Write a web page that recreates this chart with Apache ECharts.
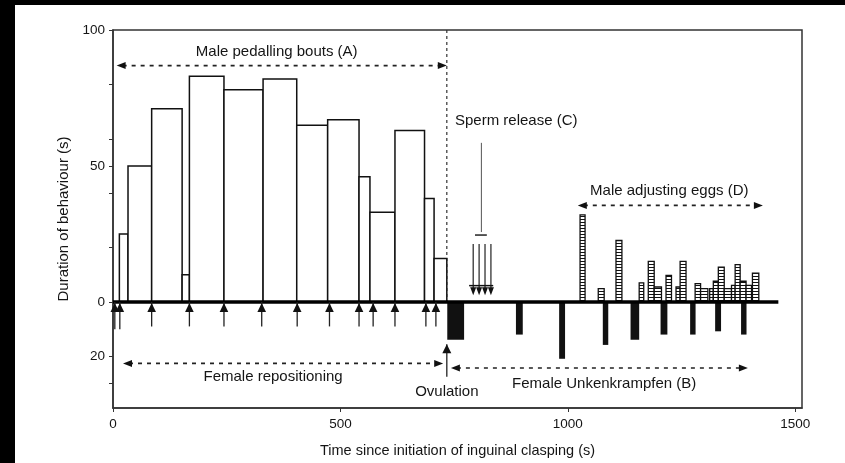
<!DOCTYPE html>
<html><head><meta charset="utf-8">
<script src="https://cdn.jsdelivr.net/npm/echarts@6/dist/echarts.min.js"></script>
<style>html,body{margin:0;padding:0;background:#fff}#c{width:845px;height:463px}</style>
</head><body><div id="c"></div>
<script>
// Male pedalling bouts (A): start, end (s), duration (s)
const boutStart    = [14, 33, 85, 152, 168, 244, 330, 404, 472, 541, 565, 620, 685, 706];
const boutEnd      = [33, 85, 152, 168, 244, 330, 404, 472, 541, 565, 620, 685, 706, 734];
const boutDuration = [25, 50, 71, 10, 83, 78, 82, 65, 67, 46, 33, 63, 38, 16];

// Female repositioning events (arrows below baseline)
const reposTime   = [4, 15, 85, 168, 244, 327, 405, 476, 541, 572, 620, 688, 710];
const reposLength = [-10, -10, -9, -9, -9, -9, -9, -9, -9, -9, -9, -9, -9];

// Female Unkenkrampfen (B): start, end, duration (plotted downward)
const unkStart    = [735, 886, 981, 1077, 1138, 1204, 1269, 1324, 1381];
const unkEnd      = [772, 901, 994, 1089, 1157, 1219, 1281, 1337, 1393];
const unkDuration = [13.9, 12, 20.9, 15.8, 13.9, 12, 12, 10.8, 12];

// Male adjusting eggs (D): start, end, duration
const eggStart    = [1027, 1067, 1106, 1157, 1177, 1190, 1216, 1238, 1247, 1280, 1292, 1312, 1320, 1331, 1344, 1360, 1368, 1379, 1392, 1406];
const eggEnd      = [1038, 1080, 1119, 1167, 1190, 1206, 1228, 1247, 1260, 1292, 1308, 1320, 1331, 1344, 1360, 1368, 1379, 1392, 1404, 1420];
const eggDuration = [32, 4.9, 22.6, 7, 14.9, 5.5, 9.8, 5.5, 14.9, 6.7, 4.9, 4.9, 7.6, 12.8, 4.9, 6.1, 13.7, 7.6, 6.1, 10.6];

// Sperm release (C)
const spermTime = [792, 805, 818, 831];
const spermTop  = [21.3, 21.3, 21.3, 21.3];

// Event markers
const ovulationTime = 734;
const baselineEnd = 1463;

// Axis ticks
const xTicks = [0, 500, 1000, 1500];
const yLabels = [100, 50, 0, -20];
const yTicks = [100, 80, 60, 50, 40, 20, 0, -20, -30];

// Annotation ranges: [from, to, level]
const rangeArrows = [
  [8, 734, 86.9],      // Male pedalling bouts (A)
  [22, 726, -22.6],    // Female repositioning
  [743, 1396, -24.3],  // Female Unkenkrampfen (B)
  [1022, 1429, 35.5]   // Male adjusting eggs (D)
];
const annotations = [
  ['Male pedalling bouts (A)', 360, 92.1, 'center'],
  ['Sperm release (C)', 752, 66.5, 'left'],
  ['Male adjusting eggs (D)', 1049, 40.9, 'left'],
  ['Female repositioning', 352, -27.7, 'center'],
  ['Ovulation', 734, -33.2, 'center'],
  ['Female Unkenkrampfen (B)', 1080, -30.1, 'center']
];

const FONT = '"Liberation Sans", Arial, Helvetica, sans-serif';
const INK = '#151515';

// ladder pattern for egg bars
const pc = document.createElement('canvas');
pc.width = 4; pc.height = 3;
const pctx = pc.getContext('2d');
pctx.fillStyle = '#fff'; pctx.fillRect(0,0,4,3);
pctx.fillStyle = '#111'; pctx.fillRect(0,0,4,1);
const eggPattern = {image: pc, repeat: 'repeat'};

function tri(x, y, dir, len, half) {
  if (dir === 'up') return [[x, y], [x - half, y + len], [x + half, y + len]];
  if (dir === 'down') return [[x, y], [x - half, y - len], [x + half, y - len]];
  if (dir === 'left') return [[x, y], [x + len, y - half], [x + len, y + half]];
  return [[x, y], [x - len, y - half], [x - len, y + half]];
}

const chart = echarts.init(document.getElementById('c'), null, {renderer: 'canvas'});

const option = {
  animation: false,
  backgroundColor: '#fff',
  graphic: [
    {type: 'rect', left: 0, top: 0, z: 100, shape: {width: 845, height: 5}, style: {fill: '#000'}},
    {type: 'rect', left: 0, top: 0, z: 100, shape: {width: 15, height: 463}, style: {fill: '#000'}}
  ],
  grid: {left: 113, right: 43, top: 30, bottom: 52, show: true, borderColor: '#333', borderWidth: 1.5, backgroundColor: 'transparent'},
  xAxis: {
    type: 'value', min: 0, max: 1515,
    name: 'Time since initiation of inguinal clasping (s)',
    nameLocation: 'middle', nameGap: 35,
    nameTextStyle: {fontFamily: FONT, fontSize: 14.5, color: INK},
    axisLine: {show: true, onZero: false, lineStyle: {color: '#333', width: 1.5}},
    axisTick: {show: true, length: 4, customValues: xTicks, lineStyle: {color: '#333'}},
    axisLabel: {customValues: xTicks, margin: 9, fontFamily: FONT, fontSize: 13.5, color: INK,
      formatter: v => String(v)},
    splitLine: {show: false}
  },
  yAxis: {
    type: 'value', min: -39, max: 100,
    name: 'Duration of behaviour (s)',
    nameLocation: 'middle', nameGap: 39,
    nameTextStyle: {fontFamily: FONT, fontSize: 15, color: INK},
    axisLine: {show: true, onZero: false, lineStyle: {color: '#333', width: 1.5}},
    axisTick: {show: true, length: 4, customValues: yTicks, lineStyle: {color: '#333'}},
    axisLabel: {customValues: yLabels, margin: 8, fontFamily: FONT, fontSize: 13.5, color: INK,
      formatter: v => String(Math.abs(v))},
    splitLine: {show: false}
  },
  series: [
    {
      type: 'custom', silent: true, z: 1,
      data: [[ovulationTime, 100, 0]],
      renderItem(p, api) {
        const a = api.coord([api.value(0), api.value(1)]);
        const b = api.coord([api.value(0), api.value(2)]);
        return {type: 'line', shape: {x1: a[0], y1: a[1], x2: b[0], y2: b[1]},
          style: {stroke: '#333', lineWidth: 1.2, lineDash: [3, 3]}};
      }
    },
    {
      type: 'custom', silent: true, z: 2,
      data: boutStart.map((s, i) => [s, boutEnd[i], boutDuration[i]]),
      renderItem(p, api) {
        const a = api.coord([api.value(0), api.value(2)]);
        const b = api.coord([api.value(1), 0]);
        return {type: 'rect', shape: {x: a[0], y: a[1], width: b[0] - a[0], height: b[1] - a[1]},
          style: {fill: '#fff', stroke: '#111', lineWidth: 1.5}};
      }
    },
    {
      type: 'custom', silent: true, z: 2,
      data: eggStart.map((s, i) => [s, eggEnd[i], eggDuration[i]]),
      renderItem(p, api) {
        const a = api.coord([api.value(0), api.value(2)]);
        const b = api.coord([api.value(1), 0]);
        return {type: 'rect', shape: {x: a[0], y: a[1], width: b[0] - a[0], height: b[1] - a[1]},
          style: {fill: eggPattern, stroke: '#111', lineWidth: 1.3}};
      }
    },
    {
      type: 'custom', silent: true, z: 2,
      data: unkStart.map((s, i) => [s, unkEnd[i], -unkDuration[i]]),
      renderItem(p, api) {
        const a = api.coord([api.value(0), 0]);
        const b = api.coord([api.value(1), api.value(2)]);
        return {type: 'rect', shape: {x: a[0], y: a[1], width: Math.max(b[0] - a[0], 4), height: b[1] - a[1]},
          style: {fill: '#111'}};
      }
    },
    {
      type: 'custom', silent: true, z: 3,
      data: [[0, baselineEnd]],
      renderItem(p, api) {
        const a = api.coord([api.value(0), 0]);
        const b = api.coord([api.value(1), 0]);
        return {type: 'line', shape: {x1: a[0], y1: a[1], x2: b[0], y2: b[1]},
          style: {stroke: '#000', lineWidth: 3.5}};
      }
    },
    {
      type: 'custom', silent: true, z: 4,
      data: reposTime.map((t, i) => [t, reposLength[i]]),
      renderItem(p, api) {
        const a = api.coord([api.value(0), 0]);
        const b = api.coord([api.value(0), api.value(1)]);
        return {type: 'group', children: [
          {type: 'line', shape: {x1: a[0], y1: a[1], x2: b[0], y2: b[1]}, style: {stroke: '#222', lineWidth: 1.3}},
          {type: 'polygon', shape: {points: tri(a[0], a[1] + 1, 'up', 9, 4.3)}, style: {fill: '#111'}}
        ]};
      }
    },
    {
      type: 'custom', silent: true, z: 4,
      data: [[ovulationTime, -15.6, -27.5]],
      renderItem(p, api) {
        const a = api.coord([api.value(0), api.value(1)]);
        const b = api.coord([api.value(0), api.value(2)]);
        return {type: 'group', children: [
          {type: 'line', shape: {x1: a[0], y1: a[1], x2: b[0], y2: b[1]}, style: {stroke: '#222', lineWidth: 1.3}},
          {type: 'polygon', shape: {points: tri(a[0], a[1], 'up', 9, 4.5)}, style: {fill: '#111'}}
        ]};
      }
    },
    {
      type: 'custom', silent: true, z: 4,
      data: spermTime.map((t, i) => [t, spermTop[i]]),
      renderItem(p, api) {
        const a = api.coord([api.value(0), api.value(1)]);
        const b = api.coord([api.value(0), 2.5]);
        return {type: 'group', children: [
          {type: 'line', shape: {x1: a[0], y1: a[1], x2: b[0], y2: b[1] - 4}, style: {stroke: '#222', lineWidth: 1.2}},
          {type: 'polygon', shape: {points: tri(b[0], b[1], 'down', 8, 3)}, style: {fill: '#111'}}
        ]};
      }
    },
    {
      type: 'custom', silent: true, z: 4,
      data: [[783, 836, 6, 796, 822, 24.6, 810, 58.5, 25.7]],
      renderItem(p, api) {
        const h1 = api.coord([api.value(0), api.value(2)]);
        const h2 = api.coord([api.value(1), api.value(2)]);
        const c1 = api.coord([api.value(3), api.value(5)]);
        const c2 = api.coord([api.value(4), api.value(5)]);
        const p1 = api.coord([api.value(6), api.value(7)]);
        const p2 = api.coord([api.value(6), api.value(8)]);
        return {type: 'group', children: [
          {type: 'line', shape: {x1: h1[0], y1: h1[1], x2: h2[0], y2: h2[1]}, style: {stroke: '#111', lineWidth: 1.5}},
          {type: 'line', shape: {x1: c1[0], y1: c1[1], x2: c2[0], y2: c2[1]}, style: {stroke: '#222', lineWidth: 1.5}},
          {type: 'line', shape: {x1: p1[0], y1: p1[1], x2: p2[0], y2: p2[1]}, style: {stroke: '#555', lineWidth: 1}}
        ]};
      }
    },
    {
      type: 'custom', silent: true, z: 5,
      data: rangeArrows,
      renderItem(p, api) {
        const a = api.coord([api.value(0), api.value(2)]);
        const b = api.coord([api.value(1), api.value(2)]);
        return {type: 'group', children: [
          {type: 'line', shape: {x1: a[0] + 6, y1: a[1], x2: b[0] - 6, y2: b[1]}, style: {stroke: '#222', lineWidth: 1.6, lineDash: [4, 5]}},
          {type: 'polygon', shape: {points: tri(a[0], a[1], 'left', 9, 3.5)}, style: {fill: '#111'}},
          {type: 'polygon', shape: {points: tri(b[0], b[1], 'right', 9, 3.5)}, style: {fill: '#111'}}
        ]};
      }
    },
    {
      type: 'custom', silent: true, z: 6,
      data: annotations.map(a => [a[1], a[2]]),
      renderItem(p, api) {
        const c = api.coord([api.value(0), api.value(1)]);
        const a = annotations[p.dataIndex];
        return {type: 'text', x: c[0], y: c[1],
          style: {text: a[0], fill: INK, font: '15px ' + FONT, align: a[3], verticalAlign: 'middle'}};
      }
    }
  ]
};
chart.setOption(option);
</script>
</body></html>
